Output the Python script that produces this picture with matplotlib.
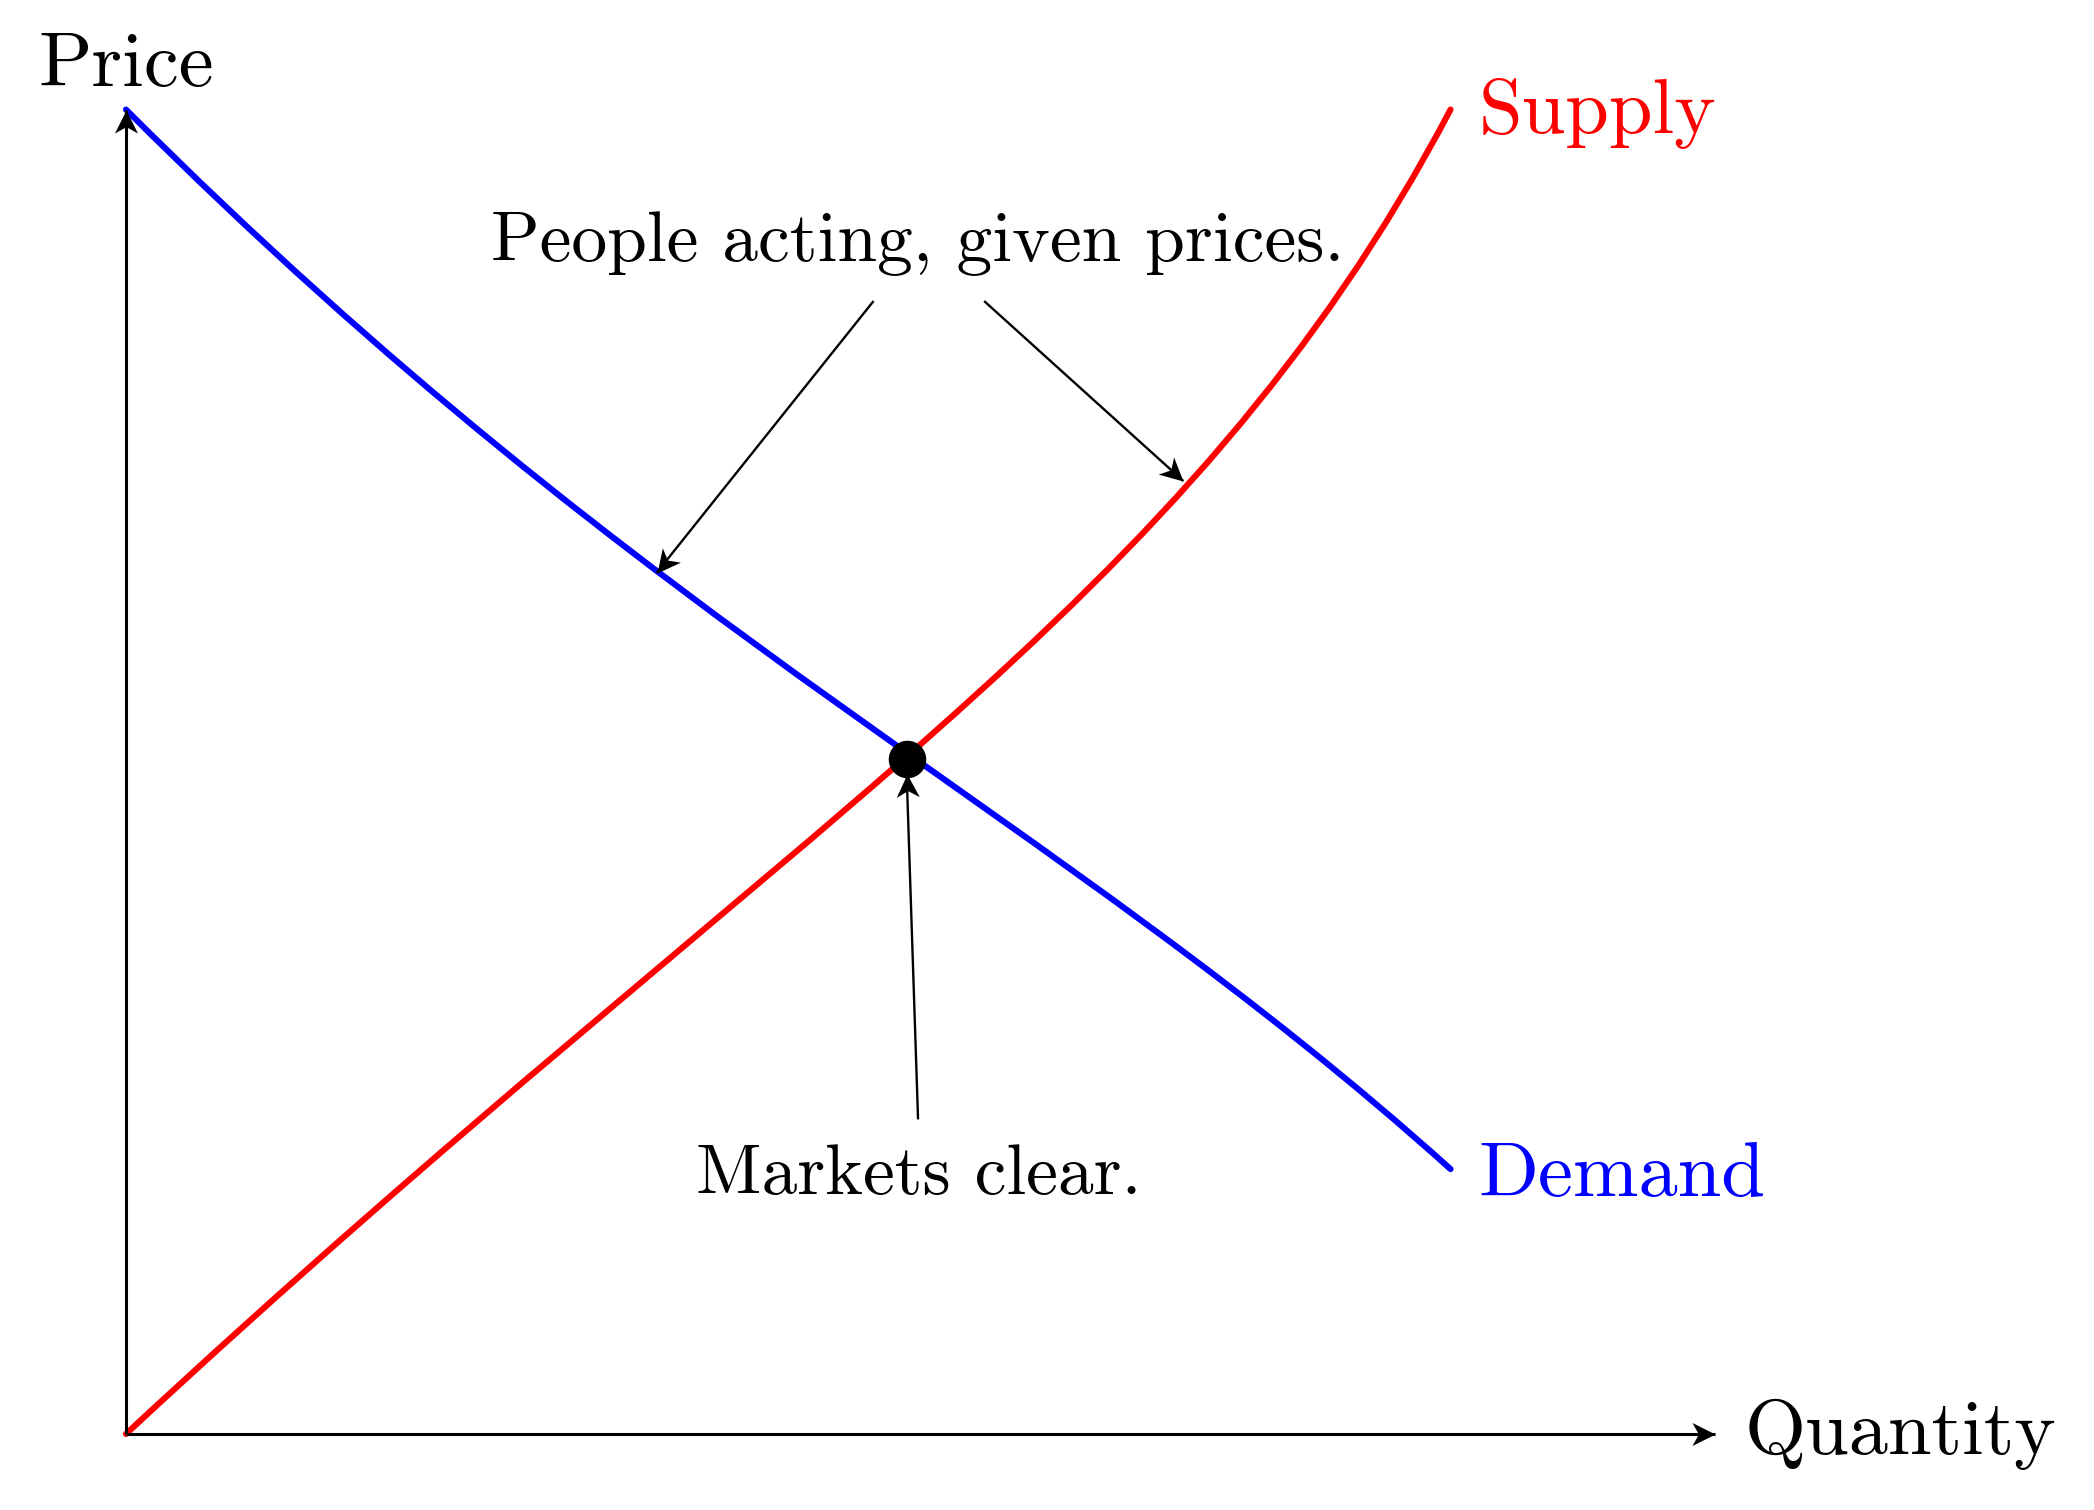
import numpy as np
import matplotlib
matplotlib.use("Agg")
import matplotlib.pyplot as plt
from matplotlib.path import Path
from matplotlib.patches import PathPatch
from matplotlib.markers import MarkerStyle
from matplotlib.transforms import Affine2D

plt.rcParams["font.family"] = "serif"
plt.rcParams["font.serif"] = ["cmr10"]
plt.rcParams["axes.formatter.use_mathtext"] = True

# curves as cubic bezier control points (quantity, price)
demand_x = [0, 4, 7, 10]
demand_y = [10, 6, 4.7, 2]
supply_x = [0, 5, 8, 10]
supply_y = [0, 4.65, 6.2, 10]

# equilibrium point
eq_x, eq_y = 5.894, 5.094

# axis extents
x_max, y_max = 12, 10

# annotation arrows (start, end)
people_arrows = [((5.644, 8.554), (4.007, 6.503)),
                 ((6.479, 8.554), (7.983, 7.195))]
market_arrow = ((5.98, 2.375), (5.894, 4.98))

head_verts = [(0, 0), (-1, 0.5), (-0.72, 0), (-1, -0.5), (0, 0)]
head_codes = [Path.MOVETO, Path.LINETO, Path.LINETO, Path.LINETO, Path.CLOSEPOLY]


def arrow(ax, start, end, lw=0.85, ms=16.6):
    ax.plot([start[0], end[0]], [start[1], end[1]], color="black", lw=lw,
            solid_capstyle="butt")
    ang = np.degrees(np.arctan2(end[1] - start[1], end[0] - start[0]))
    m = MarkerStyle(Path(head_verts, head_codes),
                    transform=Affine2D().rotate_deg(ang))
    ax.plot(end[0], end[1], marker=m, ms=ms, color="black", mew=0, ls="none")


def bezier(ax, xs, ys, color):
    codes = [Path.MOVETO, Path.CURVE4, Path.CURVE4, Path.CURVE4]
    p = Path(list(zip(xs, ys)), codes)
    ax.add_patch(PathPatch(p, fill=False, edgecolor=color, lw=2.2,
                           capstyle="round"))


fig = plt.figure(figsize=(10.47, 7.55), dpi=200)
ax = fig.add_axes([0, 0, 1, 1])
ax.set_xlim(-0.951, 14.858)
ax.set_ylim(-0.574, 10.827)
ax.axis("off")

# axes
arrow(ax, (0, 0), (0, y_max), lw=1.1)
arrow(ax, (0, 0), (x_max, 0), lw=1.1)

bezier(ax, demand_x, demand_y, "blue")
bezier(ax, supply_x, supply_y, "red")

for s, e in people_arrows:
    arrow(ax, s, e)
arrow(ax, market_arrow[0], market_arrow[1])

ax.plot(eq_x, eq_y, "o", color="black", ms=12.5)

big = 28.3
small = 25.75
ax.text(0, 10.18, "Price", ha="center", va="baseline", fontsize=big)
ax.text(12.22, -0.15, "Quantity", ha="left", va="baseline", fontsize=big)
ax.text(10.21, 9.82, "Supply", color="red", ha="left", va="baseline", fontsize=big)
ax.text(10.21, 1.80, "Demand", color="blue", ha="left", va="baseline", fontsize=big)
ax.text(5.98, 8.855, "People acting, given prices.", ha="center", va="baseline",
        fontsize=small)
ax.text(5.985, 1.81, "Markets clear.", ha="center", va="baseline", fontsize=small)

fig.savefig("out.png", dpi=200)
